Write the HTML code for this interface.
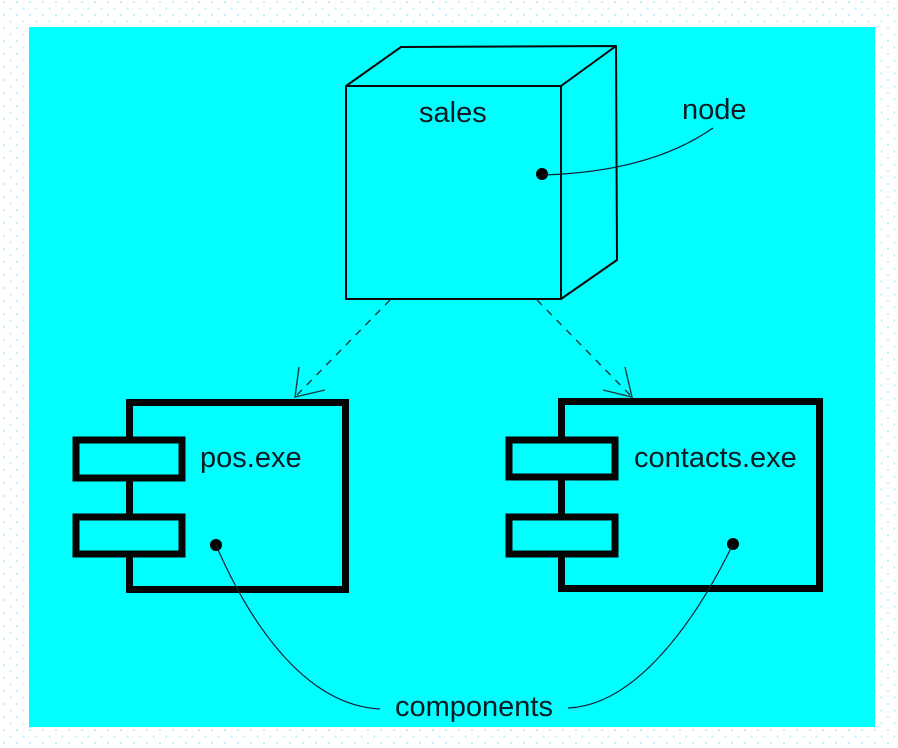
<!DOCTYPE html>
<html>
<head>
<meta charset="utf-8">
<style>
html,body{margin:0;padding:0;}
body{width:898px;height:748px;overflow:hidden;background-color:#fff;
background-image:radial-gradient(circle at 4px 2px,#cdeffa 1.1px,transparent 1.4px),radial-gradient(circle at 10.5px 8.5px,#cdeffa 1.1px,transparent 1.4px);
background-size:13px 13px;}
svg{position:absolute;left:0;top:0;}
text{font-family:"Liberation Sans",Arial,sans-serif;font-size:29px;fill:#0c1c22;}
</style>
</head>
<body>
<svg width="898" height="748" viewBox="0 0 898 748" xmlns="http://www.w3.org/2000/svg">
<rect x="29" y="27" width="846" height="700" fill="#00ffff"/>

<!-- cube -->
<g fill="none" stroke="#0a0a0a" stroke-width="2" stroke-linejoin="round">
<rect x="346" y="86" width="215" height="213"/>
<polyline points="346,86 401,47 616,46 561,86"/>
<polyline points="616,46 617,260 561,299"/>
</g>
<text x="419" y="122">sales</text>
<circle cx="542" cy="174" r="6" fill="#000"/>
<path d="M542,175 Q650,172 713,128" fill="none" stroke="#123" stroke-width="1.3"/>
<text x="682" y="119">node</text>

<!-- dashed dependencies -->
<g fill="none" stroke="#1a3a40" stroke-width="1.4">
<line x1="390" y1="300" x2="295" y2="397" stroke-dasharray="7 7"/>
<line x1="537" y1="300" x2="632" y2="397" stroke-dasharray="7 7"/>
<polyline points="299,367 295,397 325,390"/>
<polyline points="625,367 632,397 603,390"/>
</g>

<!-- left component -->
<g stroke="#050505" stroke-width="7" fill="#00ffff">
<rect x="129.5" y="402.5" width="216" height="187" fill="none"/>
<rect x="76" y="440" width="106" height="38"/>
<rect x="76" y="517" width="106" height="37"/>
</g>
<text x="200" y="467">pos.exe</text>
<circle cx="216" cy="545" r="6" fill="#000"/>

<!-- right component -->
<g stroke="#050505" stroke-width="7" fill="#00ffff">
<rect x="561.5" y="401.5" width="258" height="187" fill="none"/>
<rect x="509" y="440" width="106" height="37"/>
<rect x="509" y="517" width="106" height="37"/>
</g>
<text x="634" y="467">contacts.exe</text>
<circle cx="733" cy="544" r="6" fill="#000"/>

<!-- component callouts -->
<g fill="none" stroke="#123" stroke-width="1.2">
<path d="M216,545 C245,612 300,705 380,709"/>
<path d="M733,544 C700,612 640,705 568,708"/>
</g>
<text x="395" y="716">components</text>
</svg>
</body>
</html>
